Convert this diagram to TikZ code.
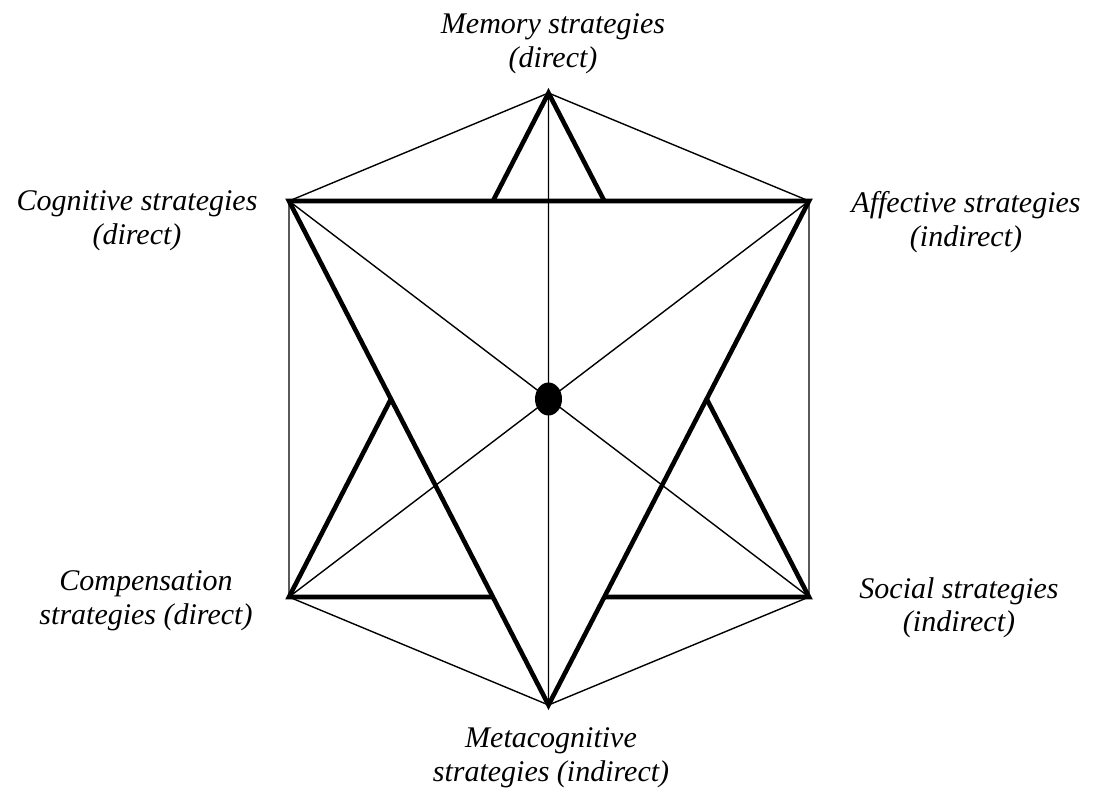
\documentclass[tikz,border=0pt]{standalone}
\usepackage{fontspec}
\setmainfont{Liberation Serif}
\usetikzlibrary{shapes.geometric}
\begin{document}
\begin{tikzpicture}[x=1pt,y=-1pt,
  thinline/.style={line width=1.4pt, line join=miter},
  thickline/.style={line width=4.6pt, line join=miter},
  lab/.style={font=\fontsize{30}{33.5}\selectfont\itshape, align=center, inner sep=0pt, anchor=center}]
\useasboundingbox (0,0) rectangle (1094,789);
\coordinate (T)  at (548.5,93);
\coordinate (UL) at (289,201);
\coordinate (UR) at (809,201);
\coordinate (LL) at (289,597);
\coordinate (LR) at (809,597);
\coordinate (B)  at (548.5,705);
% thin hexagon and diagonals
\draw[thinline] (T)--(UL)--(LL)--(B)--(LR)--(UR)--cycle;
\draw[thinline] (UL)--(LR) (UR)--(LL) (T)--(B);
% thick downward triangle
\draw[thickline] (UL)--(UR)--(B)--cycle;
% thick corner pieces of upward triangle
\draw[thickline] (intersection of T--LL and UL--UR) -- (T) -- (intersection of T--LR and UL--UR);
\draw[thickline] (intersection of LL--T and UL--B) -- (LL) -- (intersection of LL--LR and UL--B);
\draw[thickline] (intersection of LR--T and UR--B) -- (LR) -- (intersection of LR--LL and UR--B);
% centre dot
\node[ellipse, fill=black, draw=none, inner sep=0pt, minimum width=27pt, minimum height=33pt] (dot) at (548.5,399) {};
% labels
\node[lab] (mem) at (553,44) {Memory strategies\\(direct)};
\node[lab] (cog) at (137,221) {Cognitive strategies\\(direct)};
\node[lab] (aff) at (966,222) {Affective strategies\\(indirect)};
\node[lab] (com) at (146,601) {Compensation\\strategies (direct)};
\node[lab] (soc) at (959,608) {Social strategies\\(indirect)};
\node[lab] (met) at (551,758) {Metacognitive\\strategies (indirect)};
\end{tikzpicture}
\end{document}
